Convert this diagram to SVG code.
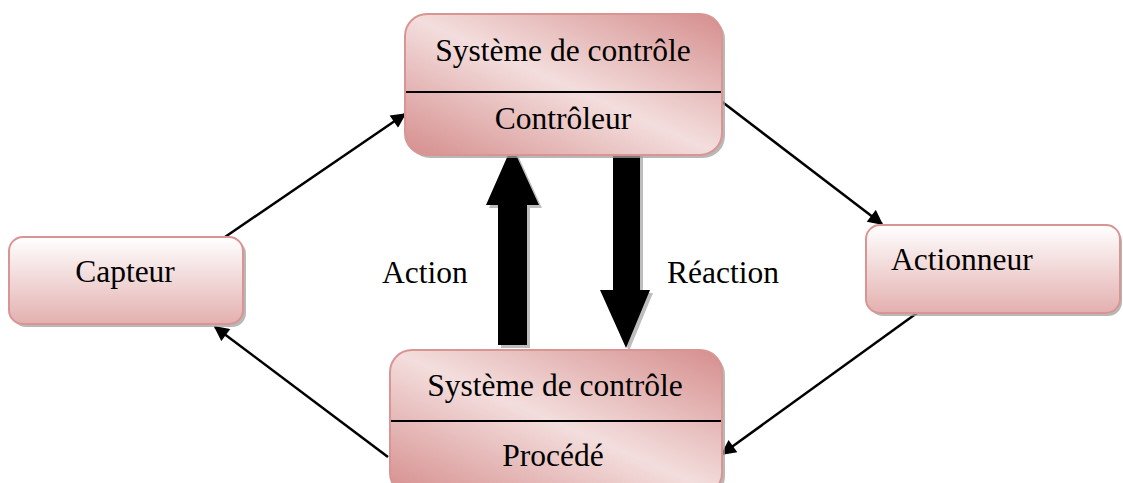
<svg xmlns="http://www.w3.org/2000/svg" width="1123" height="483" viewBox="0 0 1123 483">
<defs>
<linearGradient id="gDiag" x1="0" y1="1" x2="1" y2="0">
<stop offset="0" stop-color="#d58e8d"/>
<stop offset="0.5" stop-color="#f3dedd"/>
<stop offset="1" stop-color="#d58e8d"/>
</linearGradient>
<linearGradient id="gVert" x1="0" y1="0" x2="0" y2="1">
<stop offset="0" stop-color="#ffffff"/>
<stop offset="1" stop-color="#e3b0af"/>
</linearGradient>
<marker id="ahL" viewBox="0 0 10 10" refX="9" refY="5" markerWidth="17" markerHeight="15" markerUnits="userSpaceOnUse" orient="auto">
<path d="M0,0 L10,5 L0,10 z" fill="#000"/>
</marker>
</defs>
<style>
.shadow{fill:#a0a0a0;opacity:0.75}
.diag{fill:url(#gDiag);stroke:#d99594;stroke-width:2}
.vert{fill:url(#gVert);stroke:#d99594;stroke-width:2}
.div{stroke:#000;stroke-width:2}
text{font-family:"Liberation Serif","Times New Roman",serif;font-size:31.5px;fill:#000}
.c{text-anchor:middle}
.conn{stroke:#000;stroke-width:2.5;fill:none;marker-end:url(#ahL)}
.ashadow{fill:#bdbdbd}
.big{fill:#000}
</style>
<rect width="1123" height="483" fill="#fff"/>

<g id="connectors">
<line class="conn" x1="225" y1="237" x2="405" y2="114"/>
<line class="conn" x1="721" y1="101" x2="882" y2="224"/>
<line class="conn" x1="917" y1="313" x2="722" y2="454"/>
<line class="conn" x1="388" y1="457" x2="215" y2="327"/>
<polygon class="ashadow" points="501,208 489,208 515,149 542,208 530,208 530,348 501,348"/>
<polygon class="big" points="498,205 486,205 512,146 539,205 527,205 527,345 498,345"/>
<polygon class="ashadow" points="616,155 643,155 643,293 653,293 629,351 603,293 616,293"/>
<polygon class="big" points="613,152 640,152 640,290 650,290 626,348 600,290 613,290"/>
</g>

<g id="node-controleur">
<rect class="shadow" x="408" y="17" width="317" height="141" rx="22"/>
<rect class="diag" x="405" y="14" width="317" height="141" rx="22"/>
<line class="div" x1="406" y1="92" x2="721" y2="92"/>
<text class="c" x="563" y="61">Système de contrôle</text>
<text class="c" x="563" y="129">Contrôleur</text>
</g>

<g id="node-procede">
<rect class="shadow" x="393" y="353" width="332" height="145" rx="22"/>
<rect class="diag" x="390" y="350" width="332" height="145" rx="22"/>
<line class="div" x1="391" y1="421" x2="721" y2="421"/>
<text class="c" x="555" y="396">Système de contrôle</text>
<text class="c" x="553" y="466">Procédé</text>
</g>

<g id="node-capteur">
<rect class="shadow" x="12" y="240" width="234" height="87" rx="14"/>
<rect class="vert" x="9" y="237" width="234" height="87" rx="14"/>
<text class="c" x="125" y="282">Capteur</text>
</g>

<g id="node-actionneur">
<rect class="shadow" x="869" y="228" width="253" height="88" rx="14"/>
<rect class="vert" x="866" y="225" width="254" height="88" rx="14"/>
<text x="891" y="270">Actionneur</text>
</g>

<g id="labels">
<text x="382" y="283">Action</text>
<text x="667" y="283">Réaction</text>
</g>
</svg>
